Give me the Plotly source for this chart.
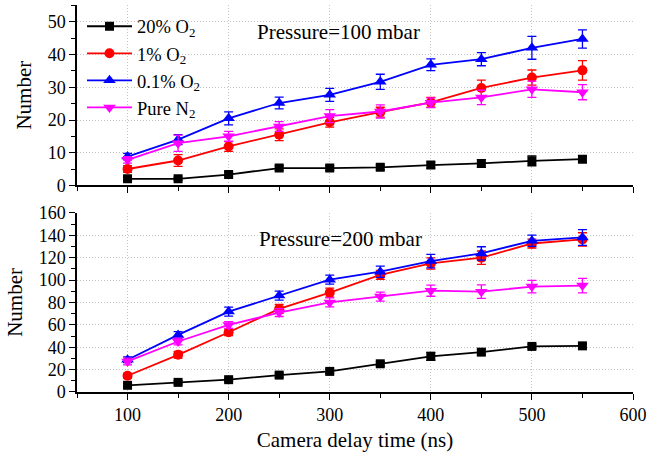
import plotly.graph_objects as go
from plotly.subplots import make_subplots

delay = [100, 150, 200, 250, 300, 350, 400, 450, 500, 550]

# Pressure = 100 mbar
top_o2_20 = [2.0, 2.0, 3.3, 5.3, 5.3, 5.5, 6.2, 6.7, 7.5, 8.0]
top_o2_1 = [5.0, 7.6, 11.9, 15.5, 19.3, 22.4, 25.4, 29.8, 33.0, 35.2]
top_o2_01 = [8.8, 14.0, 20.5, 25.2, 27.7, 31.7, 36.9, 38.6, 42.1, 44.8]
top_n2 = [7.8, 12.9, 15.0, 18.0, 21.2, 22.6, 25.3, 26.9, 29.4, 28.5]
top_err_20 = [0.5, 0.5, 0.7, 0.7, 0.7, 0.7, 0.9, 1.2, 1.5, 1.0]
top_err_1 = [1.0, 1.8, 1.5, 1.8, 1.5, 1.5, 1.5, 2.4, 2.3, 3.0]
top_err_01 = [1.0, 1.5, 2.0, 1.8, 2.0, 2.3, 1.8, 2.0, 3.5, 2.8]
top_err_n2 = [1.0, 2.5, 1.5, 1.5, 2.0, 2.0, 1.5, 2.2, 2.5, 2.3]

# Pressure = 200 mbar
bot_o2_20 = [6.0, 8.6, 11.0, 15.1, 18.4, 25.2, 31.8, 35.6, 40.7, 41.2]
bot_o2_1 = [14.5, 33.2, 53.4, 74.2, 88.7, 104.5, 114.8, 119.9, 132.6, 136.2]
bot_o2_01 = [28.8, 51.0, 71.8, 86.1, 100.3, 107.4, 116.9, 123.7, 135.0, 138.0]
bot_n2 = [27.3, 45.1, 59.9, 70.9, 80.0, 85.2, 90.5, 89.6, 94.1, 95.0]
bot_err_20 = [1.5, 1.5, 1.5, 2, 2, 2, 3.5, 2.5, 2, 2]
bot_err_1 = [2, 3, 3, 4, 4, 4, 5, 6, 4, 6]
bot_err_01 = [2.5, 3, 4, 4, 4, 5, 6, 6, 5, 7]
bot_err_n2 = [3, 3, 3, 3.5, 4, 4, 5, 6, 5.5, 6.5]

names = ["20% O<sub>2</sub>", "1% O<sub>2</sub>", "0.1% O<sub>2</sub>", "Pure N<sub>2</sub>"]
colors = ["#000000", "#ff0000", "#0000ff", "#ff00ff"]
symbols = ["square", "circle", "triangle-up", "triangle-down"]
sizes = [9, 10, 11, 11]

FONT = "Liberation Serif, Times New Roman, Times, DejaVu Serif, serif"

fig = make_subplots(rows=2, cols=1, vertical_spacing=0.07)

top_series = [(top_o2_20, top_err_20), (top_o2_1, top_err_1), (top_o2_01, top_err_01), (top_n2, top_err_n2)]
bot_series = [(bot_o2_20, bot_err_20), (bot_o2_1, bot_err_1), (bot_o2_01, bot_err_01), (bot_n2, bot_err_n2)]

for i, (vals, errs) in enumerate(top_series):
    fig.add_trace(go.Scatter(
        x=delay, y=vals, name=names[i], mode="lines+markers",
        line=dict(color=colors[i], width=1.8),
        marker=dict(symbol=symbols[i], size=sizes[i], color=colors[i]),
        error_y=dict(type="data", array=errs, color=colors[i], thickness=1.3, width=4.5),
        legendgroup=str(i)), row=1, col=1)
for i, (vals, errs) in enumerate(bot_series):
    fig.add_trace(go.Scatter(
        x=delay, y=vals, name=names[i], mode="lines+markers", showlegend=False,
        line=dict(color=colors[i], width=1.8),
        marker=dict(symbol=symbols[i], size=sizes[i], color=colors[i]),
        error_y=dict(type="data", array=errs, color=colors[i], thickness=1.3, width=4.5),
        legendgroup=str(i)), row=2, col=1)

top_dom = [0.534, 1.0]
bot_dom = [0.0, 0.463]

common = dict(showline=True, linecolor="black", linewidth=1.5, tickcolor="black", automargin=False,
              tickwidth=1.3, zeroline=False, tickfont=dict(family=FONT, size=18, color="black"))
grid = dict(showgrid=True, gridcolor="#c4c4c4", griddash="1px,2px", gridwidth=1)
mirror_common = dict(ticks="inside", ticklen=6, showticklabels=False, showgrid=False, automargin=False,
                     showline=True, linecolor="black", linewidth=1.5, tickcolor="black", tickwidth=1.3,
                     zeroline=False)

xbase = dict(range=[50, 600], tick0=0, dtick=100, ticks="outside", ticklen=6,
             minor=dict(dtick=50, tick0=0, ticks="outside", ticklen=4, tickcolor="black"),
             **common, **grid)

title_font = dict(family=FONT, size=21, color="black")

fig.update_layout(
    xaxis=dict(**xbase, showticklabels=False, anchor="y"),
    xaxis2=dict(**xbase, anchor="y2",
                title=dict(text="Camera delay time (ns)", font=title_font, standoff=8)),
    yaxis=dict(domain=top_dom, range=[0, 55.2], tick0=0, dtick=10, ticks="outside", ticklen=6,
               minor=dict(dtick=5, tick0=0, ticks="outside", ticklen=4, tickcolor="black"),
               title=dict(text="Number", font=title_font, standoff=10),
               **common, **grid),
    yaxis2=dict(domain=bot_dom, range=[0, 160], tick0=0, dtick=20, ticks="outside", ticklen=6,
                minor=dict(dtick=10, tick0=0, ticks="outside", ticklen=4, tickcolor="black"),
                title=dict(text="Number", font=title_font, standoff=10),
                **common, **grid),
    # mirrored axes with inward ticks
    xaxis3=dict(overlaying="x", anchor="y", side="top", range=[50, 600], tick0=0, dtick=100,
                minor=dict(dtick=50, tick0=0, ticks="inside", ticklen=4, tickcolor="black"), **mirror_common),
    xaxis4=dict(overlaying="x2", anchor="y2", side="top", range=[50, 600], tick0=0, dtick=100,
                minor=dict(dtick=50, tick0=0, ticks="inside", ticklen=4, tickcolor="black"), **mirror_common),
    yaxis3=dict(overlaying="y", anchor="x", side="right", range=[0, 55.2], tick0=0, dtick=10,
                minor=dict(dtick=5, tick0=0, ticks="inside", ticklen=4, tickcolor="black"), **mirror_common),
    yaxis4=dict(overlaying="y2", anchor="x2", side="right", range=[0, 160], tick0=0, dtick=20,
                minor=dict(dtick=10, tick0=0, ticks="inside", ticklen=4, tickcolor="black"), **mirror_common),
    width=661, height=459,
    margin=dict(l=77, r=28, t=5, b=67, autoexpand=False),
    plot_bgcolor="white", paper_bgcolor="white",
    font=dict(family=FONT, color="black"),
    legend=dict(x=0.009, y=0.993, xanchor="left", yanchor="top", bgcolor="rgba(0,0,0,0)",
                font=dict(family=FONT, size=18.5, color="black"), tracegroupgap=0, itemwidth=45),
    annotations=[
        dict(text="Pressure=100 mbar", x=226, y=46.8, xref="x", yref="y", xanchor="left", yanchor="middle",
             showarrow=False, font=dict(family=FONT, size=21, color="black")),
        dict(text="Pressure=200 mbar", x=228, y=137, xref="x2", yref="y2", xanchor="left", yanchor="middle",
             showarrow=False, font=dict(family=FONT, size=21, color="black")),
    ],
)

fig.write_html("out.html", config={"displayModeBar": False},
               post_script="document.body.style.margin='0px';")
